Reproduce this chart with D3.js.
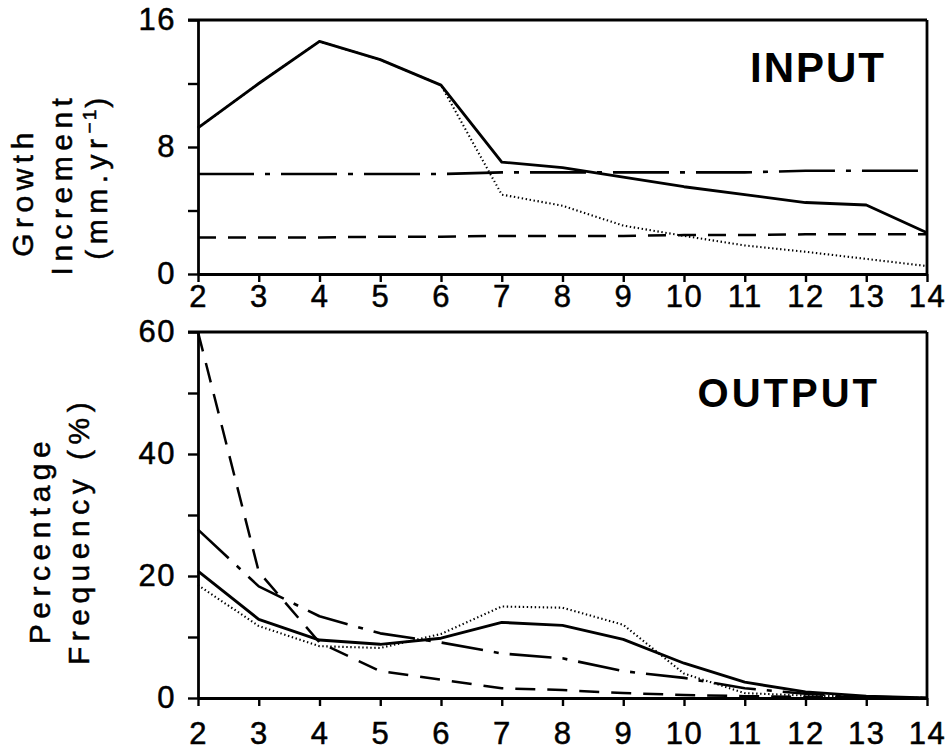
<!DOCTYPE html>
<html>
<head>
<meta charset="utf-8">
<script src="https://cdn.jsdelivr.net/npm/d3@7"></script>
<style>
  html, body { margin: 0; padding: 0; background: #fff; }
  svg { display: block; font-family: "Liberation Sans", Arial, Helvetica, sans-serif; }
</style>
</head>
<body>
<svg id="chart" width="950" height="750"></svg>
<script>
// Age classes (years) shared by both panels
const ages = [2, 3, 4, 5, 6, 7, 8, 9, 10, 11, 12, 13, 14];

// INPUT panel: growth increment (mm per year) for each scenario
const inputSolid   = [9.2, 12.0, 14.65, 13.5, 11.9, 7.05, 6.7, 6.1, 5.5, 5.0, 4.5, 4.35, 2.6];
const inputDotted  = [9.2, 12.0, 14.65, 13.5, 11.9, 5.0, 4.3, 3.05, 2.4, 1.8, 1.4, 0.95, 0.5];
const inputDashDot = [6.3, 6.3, 6.3, 6.3, 6.3, 6.4, 6.4, 6.4, 6.4, 6.4, 6.5, 6.5, 6.5];
const inputDashed  = [2.3, 2.3, 2.3, 2.35, 2.35, 2.4, 2.4, 2.4, 2.45, 2.45, 2.5, 2.5, 2.5];

// OUTPUT panel: percentage frequency for each scenario
const outputSolid   = [20.8, 12.9, 9.5, 8.8, 9.8, 12.4, 11.9, 9.6, 5.7, 2.6, 1.0, 0.3, 0.0];
const outputDotted  = [18.5, 11.8, 8.5, 8.2, 10.5, 15.0, 14.8, 12.0, 4.0, 0.8, 0.4, 0.2, 0.0];
const outputDashDot = [27.6, 18.3, 13.4, 10.6, 9.1, 7.3, 6.5, 4.4, 3.3, 1.6, 0.7, 0.2, 0.0];
const outputDashed  = [60.0, 20.7, 9.1, 4.4, 3.0, 1.6, 1.3, 0.8, 0.5, 0.3, 0.2, 0.1, 0.0];

// Tick values and which of them carry labels
const inputTicks = [0, 4, 8, 12, 16];
const inputTickLabels = [0, 8, 16];
const outputTicks = [0, 10, 20, 30, 40, 50, 60];
const outputTickLabels = [0, 20, 40, 60];

const svg = d3.select("#chart");
svg.append("rect").attr("width", 950).attr("height", 750).attr("fill", "#fff");

const left = 198, right = 927;
const x = d3.scaleLinear().domain([2, 14]).range([left, right]);

const styles = {
  solid:   { width: 2.9, dash: null },
  dotted:  { width: 2.1, dash: "1.4,2.6" },
  dashdot: { width: 2.6, dash: null },
  dashed:  { width: 2.5, dash: null }
};

function panel(cfg) {
  const y = d3.scaleLinear().domain(cfg.domain).range([cfg.bottom, cfg.top]);
  const g = svg.append("g");

  // frame: top and right edges
  g.append("line").attr("x1", left - 10).attr("x2", right).attr("y1", cfg.top).attr("y2", cfg.top)
    .attr("stroke", "#000").attr("stroke-width", 2.8);
  g.append("line").attr("x1", right).attr("x2", right).attr("y1", cfg.top).attr("y2", cfg.bottom)
    .attr("stroke", "#000").attr("stroke-width", 2.8);

  // y axis
  const ya = g.append("g").attr("transform", `translate(${left},0)`)
    .call(d3.axisLeft(y).tickValues(cfg.ticks).tickSize(10).tickSizeOuter(0).tickPadding(12)
      .tickFormat(d => cfg.tickLabels.includes(d) ? d : ""));
  // x axis
  const xa = g.append("g").attr("transform", `translate(0,${cfg.bottom})`)
    .call(d3.axisBottom(x).tickValues(ages).tickSize(8).tickSizeOuter(0).tickPadding(cfg.xPad)
      .tickFormat(d3.format("d")));

  [ya, xa].forEach(a => {
    a.select(".domain").attr("stroke", "#000").attr("stroke-width", 2.8);
    a.selectAll(".tick line").attr("stroke", "#000").attr("stroke-width", 2.4);
    a.selectAll(".tick text").attr("fill", "#000")
      .attr("stroke", "#000").attr("stroke-width", 0.5)
      .style("font-family", "'Liberation Sans', Arial, sans-serif")
      .style("font-size", "31px").style("letter-spacing", "1.5px");
  });

  const line = d3.line().x((d, i) => x(ages[i])).y(d => y(d));

  cfg.series.forEach(s => {
    const st = styles[s.kind];
    g.append("path").datum(s.values)
      .attr("d", line)
      .attr("fill", "none")
      .attr("stroke", "#000")
      .attr("stroke-width", st.width)
      .attr("stroke-linejoin", "round")
      .attr("stroke-dasharray", s.dash || st.dash);
  });

  g.append("text")
    .attr("x", cfg.tagX).attr("y", cfg.tagY)
    .attr("text-anchor", "end")
    .style("font-size", cfg.tagSize + "px").style("font-weight", "bold")
    .style("letter-spacing", cfg.tagSpacing + "px")
    .text(cfg.tag);

  return y;
}

// INPUT panel
panel({
  domain: [0, 16], top: 20, bottom: 274,
  ticks: inputTicks, tickLabels: inputTickLabels, xPad: 3,
  series: [
    { kind: "dotted", values: inputDotted },
    { kind: "dashdot", values: inputDashDot, dash: "56,11,5,11" },
    { kind: "dashed", values: inputDashed, dash: "18,12" },
    { kind: "solid", values: inputSolid }
  ],
  tag: "INPUT", tagX: 886, tagY: 82, tagSize: 42, tagSpacing: 2
});

// OUTPUT panel
panel({
  domain: [0, 60], top: 332, bottom: 698,
  ticks: outputTicks, tickLabels: outputTickLabels, xPad: 16,
  series: [
    { kind: "dotted", values: outputDotted },
    { kind: "dashdot", values: outputDashDot, dash: "42,11,5,11" },
    { kind: "dashed", values: outputDashed, dash: "20,12" },
    { kind: "solid", values: outputSolid }
  ],
  tag: "OUTPUT", tagX: 880, tagY: 407, tagSize: 40, tagSpacing: 3
});

// Rotated axis titles
function vtext(xBase, yCenter, build) {
  const t = svg.append("text")
    .attr("transform", `translate(${xBase},${yCenter}) rotate(-90)`)
    .attr("text-anchor", "middle")
    .attr("stroke", "#000").attr("stroke-width", 0.5)
    .style("font-size", "30px").style("letter-spacing", "5.5px");
  build(t);
  return t;
}
vtext(33, 192, t => t.text("Growth"));
vtext(72, 184, t => t.text("Increment"));
vtext(107, 176, t => {
  t.append("tspan").text("(mm.yr");
  t.append("tspan").attr("dy", -11).style("font-size", "19px").style("letter-spacing", "2px").text("−1");
  t.append("tspan").attr("dy", 11).text(")");
});
vtext(50, 540, t => t.text("Percentage"));
vtext(89, 531, t => t.text("Frequency (%)"));
</script>
</body>
</html>
